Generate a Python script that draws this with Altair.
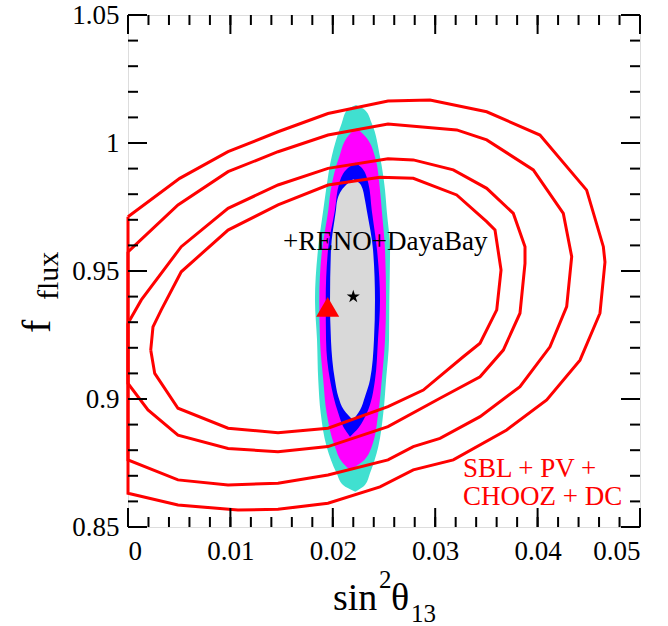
import altair as alt
import pandas as pd

FONT = "Liberation Serif"
W, H = 512, 512

# ---- axis ticks -------------------------------------------------------------
x_labels = [0.0, 0.01, 0.02, 0.03, 0.04, 0.05]
x_minor = [0.0, 0.002, 0.004, 0.006, 0.008, 0.01, 0.012, 0.014, 0.016, 0.018,
           0.02, 0.022, 0.024, 0.026, 0.028, 0.03, 0.032, 0.034, 0.036, 0.038,
           0.04, 0.042, 0.044, 0.046, 0.048, 0.05]
y_labels = [0.85, 0.9, 0.95, 1.0, 1.05]
y_minor = [0.85, 0.86, 0.87, 0.88, 0.89, 0.9, 0.91, 0.92, 0.93, 0.94, 0.95,
           0.96, 0.97, 0.98, 0.99, 1.0, 1.01, 1.02, 1.03, 1.04, 1.05]

# ---- SBL + PV + CHOOZ + DC contours (closed, innermost first) ---------------
c1_x = [0.00222, 0.00244, 0.00325, 0.0052, 0.00977, 0.01465, 0.01953, 0.02461,
        0.02786, 0.0321, 0.03503, 0.03584, 0.03643, 0.03601, 0.03438, 0.03274,
        0.02884, 0.02539, 0.01953, 0.01465, 0.00977, 0.00488, 0.00261, 0.00222]
c1_y = [0.9191, 0.9282, 0.9348, 0.9497, 0.9660, 0.9758, 0.9836, 0.9866,
        0.9862, 0.9797, 0.9693, 0.9660, 0.9504, 0.9348, 0.9218, 0.9165,
        0.9035, 0.8970, 0.8886, 0.8868, 0.8886, 0.8964, 0.9100, 0.9191]

c2_x = [0.0, 0.0013, 0.0052, 0.00977, 0.01465, 0.01953, 0.02539, 0.02786,
        0.03177, 0.03503, 0.03763, 0.03877, 0.03877, 0.03828, 0.03665, 0.03438,
        0.03047, 0.02539, 0.01953, 0.01465, 0.00977, 0.00488, 0.00195, 0.0, 0.0]
c2_y = [0.9296, 0.9387, 0.9595, 0.9745, 0.9836, 0.9901, 0.9938, 0.9934,
        0.9895, 0.9823, 0.9725, 0.9595, 0.9530, 0.9335, 0.9191, 0.9087,
        0.9003, 0.8892, 0.8814, 0.8794, 0.8807, 0.8859, 0.8957, 0.9061, 0.9296]

c3_x = [0.0, 0.00488, 0.00977, 0.01465, 0.01953, 0.02539, 0.0321, 0.03503,
        0.03958, 0.04251, 0.04333, 0.04284, 0.04121, 0.03828, 0.03438, 0.03047,
        0.02786, 0.02539, 0.01953, 0.01465, 0.00977, 0.00488, 0.0, 0.0]
c3_y = [0.9575, 0.9758, 0.9888, 0.9966, 1.0031, 1.0074, 1.0051, 1.0012,
        0.9895, 0.9725, 0.9556, 0.9361, 0.9204, 0.9048, 0.8931, 0.8846,
        0.8814, 0.8762, 0.8703, 0.8671, 0.8664, 0.8684, 0.8762, 0.9575]

c4_x = [0.0, 0.00505, 0.00977, 0.01465, 0.01953, 0.02539, 0.02949, 0.03503,
        0.04023, 0.04479, 0.04642, 0.04658, 0.04609, 0.04414, 0.04089, 0.03698,
        0.03177, 0.02786, 0.02461, 0.01953, 0.01465, 0.01074, 0.00488, 0.0, 0.0]
c4_y = [0.9712, 0.9862, 0.9966, 1.0044, 1.0115, 1.0164, 1.0168, 1.0122,
        1.0031, 0.9816, 0.9595, 0.9535, 0.9335, 0.9152, 0.8996, 0.8879,
        0.8762, 0.8723, 0.8657, 0.8593, 0.8569, 0.8566, 0.8586, 0.8632, 0.9712]

# ---- +RENO+DayaBay regions: y levels with left / right edges -----------------
cyan_y = [1.01484, 1.01289, 1.00770, 0.99465, 0.98164, 0.97383, 0.95820, 0.93867,
          0.92305, 0.90742, 0.89441, 0.88137, 0.87098, 0.86641, 0.86379]
cyan_l = [0.02227, 0.02139, 0.02087, 0.01989, 0.01934, 0.01907, 0.01855, 0.01826,
          0.01846, 0.01858, 0.01882, 0.01940, 0.02038, 0.02100, 0.02220]
cyan_r = [0.02227, 0.02314, 0.02380, 0.02461, 0.02510, 0.02526, 0.02559, 0.02552,
          0.02549, 0.02520, 0.02493, 0.02444, 0.02363, 0.02314, 0.02220]

mag_y = [1.00574, 1.00313, 0.99465, 0.98164, 0.97383, 0.95820, 0.93867, 0.92305,
         0.90742, 0.89441, 0.88137, 0.87539, 0.87227]
mag_l = [0.02231, 0.02158, 0.02063, 0.01980, 0.01956, 0.01895, 0.01868, 0.01875,
         0.01907, 0.01940, 0.02021, 0.02090, 0.02168]
mag_r = [0.02231, 0.02305, 0.02412, 0.02461, 0.02478, 0.02510, 0.02520, 0.02510,
         0.02478, 0.02444, 0.02380, 0.02285, 0.02168]

blue_y = [0.99230, 0.99023, 0.98426, 0.97383, 0.95820, 0.93867, 0.92305, 0.90742,
          0.89441, 0.88867, 0.88527]
blue_l = [0.02220, 0.02148, 0.02063, 0.02021, 0.01953, 0.01931, 0.01934, 0.01973,
          0.02054, 0.02109, 0.02168]
blue_r = [0.02220, 0.02285, 0.02347, 0.02380, 0.02432, 0.02461, 0.02441, 0.02412,
          0.02331, 0.02250, 0.02168]

gray_y = [0.98582, 0.98359, 0.97773, 0.97383, 0.95820, 0.93867, 0.92305, 0.90742,
          0.90090, 0.89570, 0.89180]
gray_l = [0.02200, 0.02129, 0.02044, 0.02031, 0.01982, 0.01973, 0.01982, 0.02021,
          0.02054, 0.02109, 0.02197]
gray_r = [0.02200, 0.02275, 0.02314, 0.02331, 0.02393, 0.02412, 0.02402, 0.02363,
          0.02314, 0.02266, 0.02197]

# best-fit points
star_pt = (0.022, 0.94)
tri_pt = (0.0195, 0.936)

# ---- shared scales / axes ---------------------------------------------------
xscale = alt.Scale(domain=[0, 0.05], nice=False, zero=False)
yscale = alt.Scale(domain=[0.85, 1.05], nice=False, zero=False)
xaxis = alt.Axis(values=x_labels, format="~g", ticks=False, domain=False, grid=False,
                 labelFont=FONT, labelFontSize=27, labelColor="black",
                 labelPadding=11, labelOverlap=False, title=None)
yaxis = alt.Axis(values=y_labels, format="~g", ticks=False, domain=False, grid=False,
                 labelFont=FONT, labelFontSize=27, labelColor="black",
                 labelPadding=9, labelOverlap=False, title=None)


def X(field, **kw):
    return alt.X(field, type="quantitative", scale=xscale, axis=xaxis, **kw)


def Y(field, **kw):
    return alt.Y(field, type="quantitative", scale=yscale, axis=yaxis, **kw)


layers = []

# filled allowed regions, outermost first
for ys, ls, rs, col in [(cyan_y, cyan_l, cyan_r, "#40E0D0"),
                        (mag_y, mag_l, mag_r, "#FF00FF"),
                        (blue_y, blue_l, blue_r, "#0000FF"),
                        (gray_y, gray_l, gray_r, "#D9D9D9")]:
    df = pd.DataFrame({"y": ys, "xl": ls, "xr": rs})
    layers.append(
        alt.Chart(df).mark_area(orient="horizontal", interpolate="monotone",
                                color=col, opacity=1)
        .encode(y=Y("y"), x=X("xl", stack=None), x2="xr")
    )

# red contours
rows = []
for name, xs, ys in [("c1", c1_x, c1_y), ("c2", c2_x, c2_y),
                     ("c3", c3_x, c3_y), ("c4", c4_x, c4_y)]:
    for i, (a, b) in enumerate(zip(xs, ys)):
        rows.append({"c": name, "i": i, "x": a, "y": b})
contours = pd.DataFrame(rows)
layers.append(
    alt.Chart(contours).mark_line(color="#FF0000", strokeWidth=3, interpolate="linear")
    .encode(x=X("x"), y=Y("y"), detail="c:N", order="i:Q")
)

# inward ticks on all four sides
MAJ, MIN = 19, 10
xt = pd.DataFrame({"v": x_minor})
xM = pd.DataFrame({"v": x_labels})
yt = pd.DataFrame({"v": y_minor})
yM = pd.DataFrame({"v": y_labels})
tick = dict(color="black", strokeWidth=2)
for df, ln in [(xt, MIN), (xM, MAJ)]:
    layers.append(alt.Chart(df).mark_rule(**tick).encode(
        x=X("v"), y=alt.value(H), y2=alt.value(H - ln)))
    layers.append(alt.Chart(df).mark_rule(**tick).encode(
        x=X("v"), y=alt.value(0), y2=alt.value(ln)))
for df, ln in [(yt, MIN), (yM, MAJ)]:
    layers.append(alt.Chart(df).mark_rule(**tick).encode(
        y=Y("v"), x=alt.value(0), x2=alt.value(ln)))
    layers.append(alt.Chart(df).mark_rule(**tick).encode(
        y=Y("v"), x=alt.value(W), x2=alt.value(W - ln)))

# best-fit markers
STAR = ("M0,-1L0.2245,-0.309L0.951,-0.309L0.363,0.118L0.588,0.809L0,0.382"
        "L-0.588,0.809L-0.363,0.118L-0.951,-0.309L-0.2245,-0.309Z")
layers.append(
    alt.Chart(pd.DataFrame({"x": [tri_pt[0]], "y": [tri_pt[1]]}))
    .mark_point(shape="triangle-up", filled=True, color="#FF0000", size=529, opacity=1)
    .encode(x=X("x"), y=Y("y"))
)
layers.append(
    alt.Chart(pd.DataFrame({"x": [star_pt[0]], "y": [star_pt[1]]}))
    .mark_point(shape=STAR, filled=True, color="black", size=190, opacity=1)
    .encode(x=X("x"), y=Y("y"))
)


def label(text, x, y, size, color="black", angle=0, align="left"):
    kw = dict(font=FONT, fontSize=size, color=color, align=align, baseline="alphabetic")
    if angle:
        kw["angle"] = angle
    return (alt.Chart(pd.DataFrame({"t": [text]})).mark_text(**kw)
            .encode(text="t:N", x=alt.value(x), y=alt.value(y)))


# annotations
layers.append(label("+RENO+DayaBay", 155, 235, 27))
layers.append(label("SBL + PV +", 335, 462, 27, color="#FF0000"))
layers.append(label("CHOOZ + DC", 335, 490, 27, color="#FF0000"))

# x title: sin^2 theta_13
layers.append(label("sin", 205, 595, 38))
layers.append(label("2", 251, 573, 25))
layers.append(label("θ", 263, 595, 38))
layers.append(label("13", 283, 607, 25))

# y title: f_flux (rotated)
layers.append(label("f", -78, 318, 40, angle=270))
layers.append(label("flux", -70, 285, 30, angle=270))

chart = (
    alt.layer(*layers)
    .properties(width=W, height=H,
                padding={"left": 128, "top": 15, "right": 28, "bottom": 99},
                autosize=alt.AutoSizeParams(type="none"))
    .configure_view(stroke="black", strokeWidth=2)
    .configure_axis(labelFont=FONT, labelFontSize=27, labelColor="black")
    .configure_text(font=FONT)
    .configure(background="white")
)

chart.save("out.html", embed_options={"renderer": "svg", "actions": False})
